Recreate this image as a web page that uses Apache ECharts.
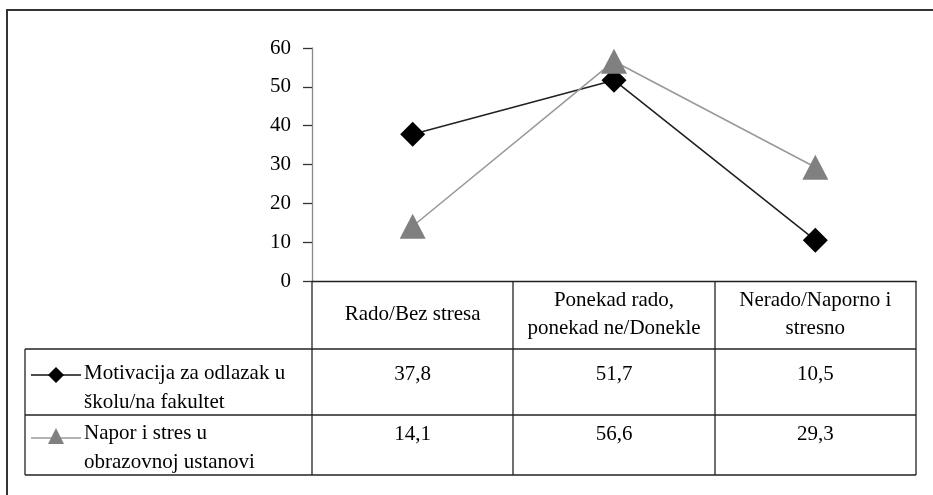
<!DOCTYPE html>
<html>
<head>
<meta charset="utf-8">
<script src="https://cdn.jsdelivr.net/npm/echarts@6/dist/echarts.min.js"></script>
<style>
  html, body { margin: 0; padding: 0; background: #fff; }
  #chart { width: 933px; height: 495px; }
</style>
</head>
<body>
<div id="chart"></div>
<script>
  // data
  var categories = ['Rado/Bez stresa', 'Ponekad rado,\nponekad ne/Donekle', 'Nerado/Naporno i\nstresno']
  var seriesNames = ['Motivacija za odlazak u', 'Napor i stres u']
  var seriesLabels = ['Motivacija za odlazak u\nškolu/na fakultet', 'Napor i stres u\nobrazovnoj ustanovi']
  var motivacija = [37.8, 51.7, 10.5]
  var napor = [14.1, 56.6, 29.3]
  var yMin = 0
  var yMax = 60
  var yStep = 10

  var FONT = '"Liberation Serif", "DejaVu Serif", serif'
  // plot / table geometry
  var L = 312, R = 916, T = 48, B = 281
  var tableLeft = 25
  var rowLines = [349, 415, 475]
  var rowTextY = [374, 434]   // centre of first text line in each row
  var colW = (R - L) / categories.length

  var chart = echarts.init(document.getElementById('chart'))

  function fmt(v) {
    return String(v.toFixed(1)).replace('.', ',')
  }

  function buildGraphic() {
    var g = []
    // outer frame
    g.push({type: 'rect', shape: {x: 7, y: 10, width: 960, height: 520},
      style: {fill: 'none', stroke: '#333', lineWidth: 2}, silent: true})
    // vertical table lines
    var xs = [L]
    for (var i = 1; i <= categories.length; i++) xs.push(Math.round(L + colW * i))
    xs.forEach(function (x) {
      g.push({type: 'line', shape: {x1: x, y1: B, x2: x, y2: rowLines[2]},
        style: {stroke: '#222', lineWidth: 1.3}, silent: true})
    })
    g.push({type: 'line', shape: {x1: tableLeft, y1: rowLines[0], x2: tableLeft, y2: rowLines[2]},
      style: {stroke: '#222', lineWidth: 1.3}, silent: true})
    rowLines.forEach(function (y) {
      g.push({type: 'line', shape: {x1: tableLeft, y1: y, x2: R, y2: y},
        style: {stroke: '#222', lineWidth: 1.3}, silent: true})
    })
    // values in the rows
    var rows = [motivacija, napor]
    rows.forEach(function (vals, r) {
      var cy = rowTextY[r]
      vals.forEach(function (v, c) {
        g.push({type: 'text', silent: true, style: {
          text: fmt(v), x: L + colW * (c + 0.5), y: cy,
          align: 'center', verticalAlign: 'middle', fill: '#000',
          fontFamily: FONT, fontSize: 21
        }})
      })
      // series key
      g.push({type: 'text', silent: true, style: {
        text: seriesLabels[r], x: 84, y: cy - 15,
        align: 'left', verticalAlign: 'top', fill: '#000',
        fontFamily: FONT, fontSize: 21, lineHeight: 29
      }})
      var ky = cy + 1 + r * 3
      g.push({type: 'line', shape: {x1: 31, y1: ky, x2: 81, y2: ky},
        style: {stroke: r === 0 ? '#111' : '#999', lineWidth: 1.5}, silent: true})
      if (r === 0) {
        g.push({type: 'polygon', shape: {points: [[56, ky - 8], [64, ky], [56, ky + 8], [48, ky]]},
          style: {fill: '#000'}, silent: true})
      } else {
        g.push({type: 'polygon', shape: {points: [[56, ky - 10], [64, ky + 6], [48, ky + 6]]},
          style: {fill: '#808080'}, silent: true})
      }
    })
    return g
  }

  chart.setOption({
    animation: false,
    backgroundColor: '#fff',
    textStyle: {fontFamily: FONT},
    grid: {left: L, top: T, width: R - L, height: B - T, containLabel: false},
    xAxis: {
      type: 'category',
      data: categories,
      boundaryGap: true,
      axisLine: {show: true, lineStyle: {color: '#222', width: 1.3}},
      axisTick: {show: false},
      axisLabel: {
        interval: 0,
        margin: 33,
        verticalAlign: 'middle',
        lineHeight: 28,
        color: '#000',
        fontFamily: FONT,
        fontSize: 21
      },
      splitLine: {show: false}
    },
    yAxis: {
      type: 'value',
      min: yMin,
      max: yMax,
      interval: yStep,
      axisLine: {show: true, lineStyle: {color: '#888', width: 1.3}},
      axisTick: {show: true, length: 9, lineStyle: {color: '#333', width: 1.3}},
      axisLabel: {color: '#000', fontFamily: FONT, fontSize: 21, margin: 21},
      splitLine: {show: false}
    },
    series: [
      {
        name: seriesNames[0],
        type: 'line',
        data: motivacija,
        symbol: 'diamond',
        symbolSize: [25, 25],
        itemStyle: {color: '#000'},
        lineStyle: {color: '#222', width: 1.6},
        z: 3
      },
      {
        name: seriesNames[1],
        type: 'line',
        data: napor,
        symbol: 'triangle',
        symbolSize: [26, 25],
        itemStyle: {color: '#808080'},
        lineStyle: {color: '#999', width: 1.6},
        z: 4
      }
    ],
    graphic: buildGraphic()
  })
</script>
</body>
</html>
